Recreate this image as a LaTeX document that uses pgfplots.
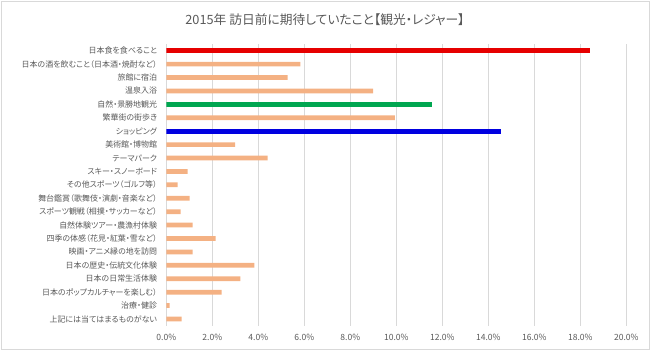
\documentclass[border=0pt]{standalone}
\usepackage{fontspec}
\setmainfont{Noto Sans CJK JP}[RawFeature={+palt}]
\usepackage{pgfplots}
\pgfplotsset{compat=1.18}
\definecolor{txt}{HTML}{595959}
\definecolor{barc}{HTML}{F4B183}
\definecolor{gridc}{HTML}{D9D9D9}
\definecolor{redc}{HTML}{E60000}
\definecolor{greenc}{HTML}{00A650}
\definecolor{bluec}{HTML}{0000E0}
\begin{document}
\begin{tikzpicture}
\useasboundingbox (0bp,0bp) rectangle (654bp,352bp);
\draw[gridc, line width=0.8bp] (1.5bp,2.5bp) rectangle (649.5bp,350.5bp);
\node[txt, font=\fontsize{12.8}{15}\selectfont] at (325bp,332.5bp) {2015年 訪日前に期待していたこと【観光・レジャー】};
\begin{axis}[
  at={(166.3bp,26.3bp)}, anchor=south west,
  scale only axis, width=460bp, height=281.7bp,
  xmin=0, xmax=20, ymin=-0.5, ymax=20.5,
  xbar, bar width=4.7bp, bar shift=0pt,
  axis line style={draw=none},
  xmajorgrids, grid style={gridc, line width=0.6bp},
  major tick length=0pt,
  xtick={0,2,...,20},
  xticklabel={\pgfmathprintnumber[fixed,fixed zerofill,precision=1]{\tick}\%},
  /pgf/number format/assume math mode=true,
  xticklabel style={txt, font=\fontsize{8.6}{10}\selectfont, inner sep=0pt, yshift=-8bp},
  ytick={0,...,20},
  yticklabels={上記には当てはまるものがない,治療・健診,日本のポップカルチャーを楽しむ）,日本の日常生活体験,日本の歴史・伝統文化体験,映画・アニメ縁の地を訪問,四季の体感（花見・紅葉・雪など）,自然体験ツアー・農漁村体験,スポーツ観戦（相撲・サッカーなど）,舞台鑑賞（歌舞伎・演劇・音楽など）,その他スポーツ（ゴルフ等）,スキー・スノーボード,テーマパーク,美術館・博物館,ショッピング,繁華街の街歩き,自然・景勝地観光,温泉入浴,旅館に宿泊,日本の酒を飲むこと（日本酒・焼酎など）,日本食を食べること},
  yticklabel style={txt, font=\fontsize{8.0}{9}\selectfont, inner sep=0pt, anchor=east, xshift=-9bp},
]
% values listed from the bottom category (0) to the top category (20)
\addplot[fill=barc, draw=none] coordinates {
 (0.67,0) (0.14,1) (2.41,2) (3.22,3) (3.83,4) (1.14,5) (2.14,6) (1.14,7) (0.62,8) (1.01,9) (0.49,10) (0.93,11) (4.41,12) (2.99,13) (9.94,15) (8.99,17) (5.28,18) (5.83,19)
};
\addplot[fill=redc, draw=none] coordinates {(18.43,20)};
\addplot[fill=greenc, draw=none] coordinates {(11.55,16)};
\addplot[fill=bluec, draw=none] coordinates {(14.54,14)};
\end{axis}
\end{tikzpicture}
\end{document}
